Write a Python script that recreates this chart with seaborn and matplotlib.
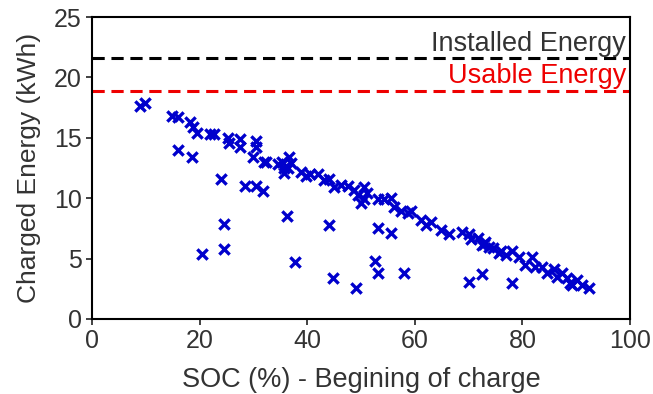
import matplotlib
matplotlib.use("Agg")
import matplotlib.pyplot as plt
import seaborn as sns
import pandas as pd

soc = [9.0, 9.9, 14.9, 15.9, 18.3, 18.7, 19.6, 22.0, 22.6, 25.2, 25.4, 27.6, 27.6,
       30.4, 30.4, 30.0, 31.9, 32.3, 34.5, 35.4, 35.6, 36.4, 36.6, 35.6, 37.0,
       38.8, 39.7, 40.5, 42.0, 43.1, 44.0, 45.0, 46.3, 47.6, 48.7, 49.4, 50.6,
       50.6, 50.0, 51.2, 53.2, 54.3, 55.6, 56.2, 57.5, 58.8, 59.3, 61.2, 62.1,
       63.1, 64.9, 66.4, 68.7, 70.0, 70.5, 71.8, 72.4, 73.0, 73.7, 74.6, 75.6,
       76.1, 78.0, 79.3, 80.4, 81.7, 82.3, 83.6, 84.5, 85.8, 87.3, 88.2, 89.2,
       90.1, 91.0, 92.4, 86.5, 88.8, 77.0, 72.9,
       16.0, 18.5, 23.9, 28.5, 30.4, 31.7, 24.5, 24.5, 20.5, 36.2, 37.7, 44.0,
       44.8, 49.1, 53.2, 55.6, 52.6, 53.2, 58.0, 70.1, 72.4, 78.0]
energy = [17.6, 17.9, 16.8, 16.7, 16.3, 15.9, 15.4, 15.3, 15.3, 15.0, 14.6, 14.9, 14.2,
          14.7, 14.2, 13.4, 13.0, 13.0, 12.8, 13.0, 12.5, 12.5, 13.4, 12.1, 12.9,
          12.2, 11.8, 12.0, 12.0, 11.5, 11.6, 10.9, 11.1, 11.0, 10.7, 10.3, 10.9,
          9.9, 9.6, 10.4, 9.9, 9.9, 10.0, 9.3, 8.9, 8.8, 8.9, 8.2, 7.8,
          8.0, 7.4, 7.0, 7.2, 7.0, 6.6, 6.7, 6.1, 6.4, 6.0, 5.9, 5.5,
          5.6, 5.6, 5.1, 4.5, 5.1, 4.3, 4.3, 3.8, 4.1, 3.8, 3.4, 2.8,
          3.2, 2.8, 2.6, 3.5, 3.0, 5.3, 6.2,
          14.0, 13.4, 11.6, 11.0, 11.0, 10.6, 7.9, 5.8, 5.4, 8.5, 4.7, 7.8,
          3.4, 2.6, 7.5, 7.1, 4.8, 3.8, 3.8, 3.1, 3.7, 3.0]

installed_energy = 21.6
usable_energy = 18.9
x_ticks = [0, 20, 40, 60, 80, 100]
y_ticks = [0, 5, 10, 15, 20, 25]

df = pd.DataFrame({"soc": soc, "energy": energy})

sns.set_style("ticks")
plt.rcParams['font.family'] = ['Liberation Sans', 'DejaVu Sans']

fig = plt.figure(figsize=(6.53, 3.94), dpi=100)
ax = fig.add_axes([92/653, 1 - 319/394, (630-92)/653, (319-17)/394])

sns.scatterplot(data=df, x="soc", y="energy", marker="x", color="#0000CC",
                s=55, linewidth=2.4, ax=ax, zorder=3)

ax.axhline(installed_energy, color="black", linestyle=(0, (4, 2.2)), linewidth=2.2, zorder=2)
ax.axhline(usable_energy, color="#EE0000", linestyle=(0, (4, 2.2)), linewidth=2.2, zorder=2)
ax.text(99.3, installed_energy + 0.1, "Installed Energy", ha="right", va="bottom",
        fontsize=19.5, color="#333333")
ax.text(99.3, usable_energy + 0.1, "Usable Energy", ha="right", va="bottom",
        fontsize=19.5, color="#EE0000")

ax.set_xlim(0, 100)
ax.set_ylim(0, 25)
ax.set_xticks(x_ticks)
ax.set_yticks(y_ticks)
ax.tick_params(direction="out", length=4, width=1.3, labelsize=18, colors="#333333")
ax.set_xlabel("SOC (%) - Begining of charge", fontsize=19.5, color="#333333", labelpad=10)
ax.set_ylabel("Charged Energy (kWh)", fontsize=19, color="#333333", labelpad=9)
for sp in ax.spines.values():
    sp.set_visible(True)
    sp.set_linewidth(1.5)
    sp.set_color("black")

fig.savefig("out.png", dpi=100)
